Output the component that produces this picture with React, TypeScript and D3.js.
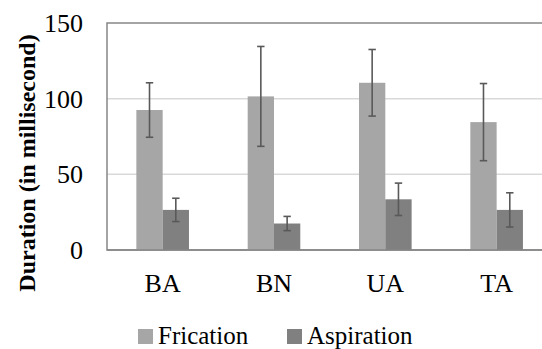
import React, { useEffect, useRef } from 'react';
import * as d3 from 'd3';

// values (ms)
const groups = ['BA', 'BN', 'UA', 'TA'];
const seriesNames = ['Frication', 'Aspiration'];
const frication = [92.5, 101.5, 110.5, 84.5];
const fricationErr = [18, 33, 22, 25.5];
const aspiration = [26.5, 17.5, 33.5, 26.5];
const aspirationErr = [7.7, 4.7, 10.7, 11.3];
const yTicks = [0, 50, 100, 150];

const colors = ['#a6a6a6', '#808080'];
const font = "'Liberation Serif', 'Times New Roman', serif";

function App() {
    const ref = useRef<SVGSVGElement>(null);

    useEffect(() => {
        const svg = d3.select(ref.current);
        svg.selectAll('*').remove();

        const left = 107, top = 23, bottom = 250, right = 552.3;

        const x = d3.scaleBand<string>()
            .domain(groups)
            .range([left, right])
            .padding(0);

        const xs = d3.scaleBand<string>()
            .domain(seriesNames)
            .range([0, x.bandwidth()])
            .paddingInner(0)
            .paddingOuter(1.116);

        const y = d3.scaleLinear()
            .domain([0, 150])
            .range([bottom, top]);

        // gridlines
        svg.append('g')
            .selectAll('line')
            .data(yTicks.filter(t => t > 0 && t < 150))
            .enter().append('line')
            .attr('x1', left).attr('x2', right)
            .attr('y1', d => y(d)).attr('y2', d => y(d))
            .attr('stroke', '#d9d9d9')
            .attr('stroke-width', 1.5);

        // plot area frame
        svg.append('rect')
            .attr('x', left).attr('y', top)
            .attr('width', right - left).attr('height', bottom - top)
            .attr('fill', 'none')
            .attr('stroke', '#868686')
            .attr('stroke-width', 1.5);

        // y tick labels
        svg.append('g')
            .selectAll('text')
            .data(yTicks)
            .enter().append('text')
            .attr('x', 83)
            .attr('y', d => y(d))
            .attr('dy', '0.35em')
            .attr('text-anchor', 'end')
            .attr('font-family', font)
            .attr('font-size', 26)
            .text(d => d);

        const series = [
            { name: seriesNames[0], values: frication, errs: fricationErr, color: colors[0] },
            { name: seriesNames[1], values: aspiration, errs: aspirationErr, color: colors[1] },
        ];

        series.forEach(s => {
            const g = svg.append('g');
            g.selectAll('rect')
                .data(groups)
                .enter().append('rect')
                .attr('x', (d) => x(d)! + xs(s.name)!)
                .attr('y', (d, i) => y(s.values[i]))
                .attr('width', xs.bandwidth())
                .attr('height', (d, i) => bottom - y(s.values[i]))
                .attr('fill', s.color);

            const cx = (d: string) => x(d)! + xs(s.name)! + xs.bandwidth() / 2;
            const eb = g.selectAll('g.err')
                .data(groups)
                .enter().append('g')
                .attr('stroke', '#595959')
                .attr('stroke-width', 1.6);
            eb.append('line')
                .attr('x1', cx).attr('x2', cx)
                .attr('y1', (d, i) => y(s.values[i] + s.errs[i]))
                .attr('y2', (d, i) => y(s.values[i] - s.errs[i]));
            eb.append('line')
                .attr('x1', d => cx(d) - 3.7).attr('x2', d => cx(d) + 3.7)
                .attr('y1', (d, i) => y(s.values[i] + s.errs[i]))
                .attr('y2', (d, i) => y(s.values[i] + s.errs[i]));
            eb.append('line')
                .attr('x1', d => cx(d) - 3.7).attr('x2', d => cx(d) + 3.7)
                .attr('y1', (d, i) => y(s.values[i] - s.errs[i]))
                .attr('y2', (d, i) => y(s.values[i] - s.errs[i]));
        });

        // bottom axis line
        svg.append('line')
            .attr('x1', left).attr('x2', right)
            .attr('y1', bottom).attr('y2', bottom)
            .attr('stroke', '#868686')
            .attr('stroke-width', 1.5);

        // category labels
        svg.append('g')
            .selectAll('text')
            .data(groups)
            .enter().append('text')
            .attr('x', d => x(d)! + x.bandwidth() / 2)
            .attr('y', 292)
            .attr('text-anchor', 'middle')
            .attr('font-family', font)
            .attr('font-size', 26)
            .text(d => d);

        // y axis title
        svg.append('text')
            .attr('transform', 'translate(35,163) rotate(-90)')
            .attr('text-anchor', 'middle')
            .attr('font-family', font)
            .attr('font-size', 24)
            .attr('font-weight', 'bold')
            .text('Duration (in millisecond)');

        // legend
        const legendX = [138, 287];
        const legend = svg.append('g')
            .selectAll('g')
            .data(series)
            .enter().append('g')
            .attr('transform', (d, i) => `translate(${legendX[i]},329)`);
        legend.append('rect')
            .attr('width', 15).attr('height', 15)
            .attr('fill', d => d.color);
        legend.append('text')
            .attr('x', 20)
            .attr('y', 14.5)
            .attr('font-family', font)
            .attr('font-size', 25)
            .text(d => d.name);
    }, []);

    return (
        <svg ref={ref} width={542} height={349}
            style={{ position: 'absolute', left: 0, top: 0, background: '#fff' }} />
    );
}

export default App;
